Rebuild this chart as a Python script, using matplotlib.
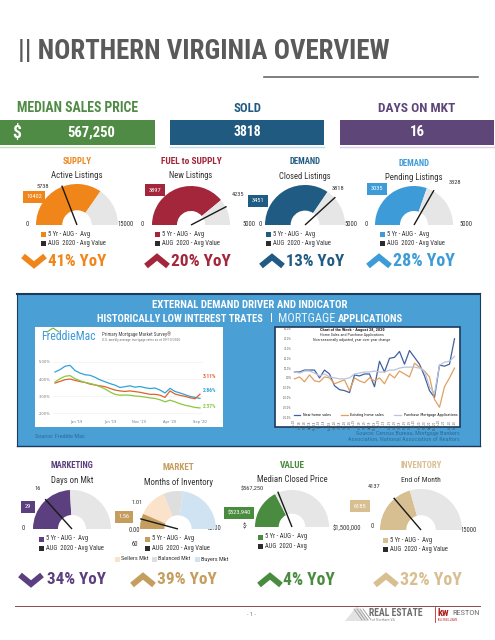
import numpy as np
import matplotlib.pyplot as plt
from matplotlib import font_manager

# ---- data ----
head_titles = ['MEDIAN SALES PRICE', 'SOLD', 'DAYS ON MKT']
head_values = ['567,250', '3818', '16']

gauge_titles = ['SUPPLY', 'FUEL to SUPPLY', 'DEMAND', 'DEMAND',
                'MARKETING', 'MARKET', 'VALUE', 'INVENTORY']
gauge_subtitles = ['Active Listings', 'New Listings', 'Closed Listings', 'Pending Listings',
                   'Days on Mkt', 'Months of Inventory', 'Median Closed Price', 'End of Month']
avg_5yr = [10402, 3897, 3451, 3035, 29, 1.56, 523940, 6185]
aug_2020 = [5738, 4235, 3818, 3328, 16, 1.01, 567250, 4137]
gauge_max = [15000, 5000, 5000, 5000, 60, 12, 1500000, 15000]
avg_labels = ['10402', '3897', '3451', '3035', '29', '1.56', '$523,940', '6185']
cur_labels = ['5738', '4235', '3818', '3328', '16', '1.01', '$567,250', '4137']
min_labels = ['0', '0', '0', '0', '0', '0.00', '$-', '0']
max_labels = ['15000', '5000', '5000', '5000', '60', '12.00', '$1,500,000', '15000']
legend_avg = '5 Yr - AUG -  Avg'
legend_cur = ['AUG  2020 - Avg Value'] * 6 + ['AUG  2020 - Avg', 'AUG  2020 - Avg Value']
yoy_pct = [41, 20, 13, 28, 34, 39, 4, 32]
yoy_up = [False, True, True, True, False, True, True, True]

market_bands = [4.5, 2.0, 5.5]
band_names = ['Sellers Mkt', 'Balanced Mkt', 'Buyers Mkt']

# Freddie Mac rates (%)
fm_ticks = ["Jan '19", "Jun '19", "Nov '19", "Apr '20", "Sep '20"]
fm_tick_pos = [4.3, 11, 16.7, 23, 29]
rate_30yr = [4.41, 4.55, 4.75, 4.80, 4.50, 4.35, 4.25, 4.22, 4.10, 3.95, 3.84, 3.73, 3.64, 3.50, 3.55,
             3.60, 3.52, 3.56, 3.49, 3.44, 3.47, 3.35, 3.18, 3.45, 3.27, 3.18, 3.08, 2.98, 2.92, 2.86]
rate_arm = [3.76, 3.86, 3.96, 4.00, 3.92, 3.85, 3.80, 3.70, 3.65, 3.60, 3.55, 3.45, 3.35, 3.30, 3.27,
            3.30, 3.26, 3.22, 3.16, 3.10, 3.10, 3.05, 2.92, 3.30, 3.12, 3.04, 2.98, 2.90, 2.84, 3.11]
rate_15yr = [3.82, 4.02, 4.16, 4.20, 4.02, 3.90, 3.80, 3.74, 3.66, 3.55, 3.42, 3.24, 3.10, 3.05, 3.06,
             3.05, 3.00, 2.98, 2.94, 2.89, 2.86, 2.78, 2.66, 2.76, 2.66, 2.55, 2.46, 2.40, 2.33, 2.30]

# Home sales / purchase apps, YoY %
months = ['Jan-18', 'Feb-18', 'Mar-18', 'Apr-18', 'May-18', 'Jun-18', 'Jul-18', 'Aug-18', 'Sep-18',
          'Oct-18', 'Nov-18', 'Dec-18', 'Jan-19', 'Feb-19', 'Mar-19', 'Apr-19', 'May-19', 'Jun-19',
          'Jul-19', 'Aug-19', 'Sep-19', 'Oct-19', 'Nov-19', 'Dec-19', 'Jan-20', 'Feb-20', 'Mar-20',
          'Apr-20', 'May-20', 'Jun-20', 'Jul-20', 'Aug-20', 'Sep-20']
new_home = [6, 6, 8, 8, 8, 0, 8, 4, -8, -12, -13, -15, 3, 2, 4, 4, -9, 17, 6, 20, 21, 27, 14, 28,
            21, 14, 2, -13, -20, 13, 12, 14, 40]
existing_home = [-1, 1, -4, 3, -3, -4, 1, 0, -6, -4, -2, -13, 0, -3, -5, 0, -3, 0, -6, 4, 0, 7, 4, 1,
                 15, 11, 7, 1, -22, -30, -9, 0, 10]
purchase_apps = [6, 5, 7, 7, 5, 2, 4, 1, 0, -1, -1, 0, 4, 5, 6, 6, 7, 6, 6, 8, 8, 10, 11, 11,
                 11, 10, 7, -9, -16, 13, 16, 17, 22]

# ---- colours ----
gauge_colors = ['#F0861A', '#A3263A', '#1F5B82', '#3D9BD8', '#5B3F7E', '#C59D5F', '#4A8C3F', '#D8BF91']
band_colors = ['#FBE3CB', '#DEDEDE', '#CFE3F2']
head_colors = ['#4F8B45', '#205A80', '#5E4679']
RING = '#E6E6E6'
DARK = '#2B2B2B'

have = {f.name for f in font_manager.fontManager.ttflist}
narrow = [f for f in ['Roboto Condensed', 'Liberation Sans Narrow', 'DejaVu Sans Condensed',
                      'Open Sans Condensed', 'Liberation Sans'] if f in have]
COND = narrow[:1] + ['DejaVu Sans']

W, H = 495, 640
fig = plt.figure(figsize=(W / 100, H / 100), dpi=100)
bg = fig.add_axes([0, 0, 1, 1])
bg.set_xlim(0, W)
bg.set_ylim(H, 0)
bg.axis('off')
renderer = fig.canvas.get_renderer()


def px_axes(x0, y0, w, h):
    return fig.add_axes([x0 / W, 1 - (y0 + h) / H, w / W, h / H])


def txt(x, y, s, size, color=DARK, weight='normal', ha='center', width=None, **kw):
    t = bg.text(x, y, s, fontsize=size, color=color, fontweight=weight, ha=ha, va='center',
                family=COND, **kw)
    if width:
        w = t.get_window_extent(renderer).width
        if w > width:
            t.set_fontsize(size * width / w)
    return t


def rect(x, y, w, h, color, **kw):
    bg.add_patch(plt.Rectangle((x, y), w, h, facecolor=color, edgecolor='none', **kw))


# ---- title ----
txt(18, 52, '|| NORTHERN VIRGINIA OVERVIEW', 21, '#5A5A5A', 'bold', ha='left', width=372)
bg.plot([264, 478], [77, 77], color='#6A6A6A', lw=1.2)

head_x = [(0, 155), (170, 324), (340, 494)]
head_w = [121, 28, 77]
val_w = [48, 28, 15]
light = ['#C5E0B8', '#BFDDEF', '#DCCDE8']
for i in range(3):
    x0, x1 = head_x[i]
    txt((x0 + x1) / 2, 108, head_titles[i], 13, head_colors[i], 'bold', width=head_w[i])
    rect(x0, 120, x1 - x0, 25, head_colors[i])
    vx = 91 if i == 0 else (x0 + x1) / 2
    txt(vx, 132.5, head_values[i], 14, 'white', 'bold', width=val_w[i])
    bg.plot([x0, x1], [147, 147], color=light[i], lw=1)
txt(17, 132.5, '$', 14, 'white', 'bold', width=9)

# ---- gauges ----
# cx, cy, R, title y, cur label xy, avg box xy, min xy, max xy, legend x, chevron x, yoy x
layout = [
    (77, 225, 41, 161, (43, 186), (34, 197), (27, 224), (126, 225), 43, 34, 48),
    (191, 225, 39, 161, (238, 195), (155, 190), (142, 224), (249, 225), 157, 157, 171),
    (305, 225, 40, 162, (338, 188), (258, 201), (260, 224), (351, 225), 268, 272, 286),
    (414, 225, 39, 163, (455, 183), (377, 189), (366, 224), (466, 225), 382, 379, 393),
    (72, 529, 39, 466, (38, 489), (28, 507), (23, 528), (135, 544), 41, 31, 47),
    (178, 529, 38, 468, (137, 503), (124, 517), (134, 530), (214, 528), 147, 143, 157),
    (292, 527, 37, 465, (252, 489), (239, 513), (245, 527), (347, 529), 260, 270, 283),
    (421, 530, 41, 466, (374, 487), (360, 506), (372, 527), (469, 530), 385, 386, 400),
]
title_w = [29, 61, 31, 31, 43, 32, 25, 41]
sub_w = [52, 44, 53, 58, 43, 70, 72, 40]
yoy_w = [58, 60, 58, 62, 59, 60, 52, 62]

for i, (cx, cy, R, ty, cxy, axy, mnxy, mxxy, lx, chx, yx) in enumerate(layout):
    col = gauge_colors[i]
    vmax = gauge_max[i]
    ax = px_axes(cx - R, cy - R, 2 * R, 2 * R)
    wp = dict(width=0.64, linewidth=0, edgecolor='none')
    if i == 5:
        ax.pie(market_bands + [vmax], colors=band_colors + ['none'], startangle=180,
               counterclock=False, wedgeprops=wp)
        ax.pie([avg_5yr[i], 2 * vmax - avg_5yr[i]], colors=[col, 'none'], startangle=180,
               counterclock=False, wedgeprops=wp)
    else:
        ax.pie([avg_5yr[i], vmax - avg_5yr[i], vmax], colors=[col, RING, 'none'],
               startangle=180, counterclock=False, wedgeprops=wp)
    th = np.pi * (1 - aug_2020[i] / vmax)
    ax.plot([0, 1.03 * np.cos(th)], [0, 1.03 * np.sin(th)], color='#1A1A1A', lw=1.0,
            clip_on=False, solid_capstyle='butt')
    ax.set_xlim(-1, 1)
    ax.set_ylim(-1, 1)
    ax.axis('off')

    txt(cx, ty, gauge_titles[i], 8, col, 'bold', width=title_w[i])
    txt(cx, ty + 14.5, gauge_subtitles[i], 7, '#333333', width=sub_w[i])
    txt(cxy[0], cxy[1], cur_labels[i], 4.6, '#333333')
    txt(axy[0], axy[1], avg_labels[i], 4.6, 'white',
        bbox=dict(boxstyle='square,pad=0.55', facecolor=col, edgecolor='none'))
    txt(mnxy[0], mnxy[1], min_labels[i], 4.7, '#333333')
    txt(mxxy[0], mxxy[1], max_labels[i], 4.7, '#333333')

    ly = cy + 9 if i < 4 else cy + 10
    rect(lx - 2.5, ly - 2.5, 5, 5, col)
    txt(lx + 5, ly, legend_avg, 4.8, '#333333', ha='left', width=45)
    rect(lx - 2.5, ly + 7, 5, 5, DARK)
    txt(lx + 5, ly + 9.5, legend_cur[i], 4.8, '#333333', ha='left',
        width=60 if i != 6 else 45)

    yy = 261 if i < 4 else 580
    if yoy_up[i]:
        pts = [(chx - 11, yy + 5), (chx, yy - 4), (chx + 11, yy + 5)]
    else:
        pts = [(chx - 11, yy - 5), (chx, yy + 4), (chx + 11, yy - 5)]
    bg.plot([p[0] for p in pts], [p[1] for p in pts], color=col, lw=4.2,
            solid_joinstyle='miter', solid_capstyle='butt')
    txt(yx, yy, f'{yoy_pct[i]}% YoY', 18, col, 'bold', ha='left', width=yoy_w[i])

# band legend under the market gauge
for bx, name, bc in zip([117, 154, 197], band_names, band_colors):
    rect(bx - 2.5, 556.5, 5, 5, bc)
    txt(bx + 4, 559, name, 4.5, '#333333', ha='left', width=32)

# ---- blue panel ----
rect(17, 293, 463, 153, '#4A9FD5')
bg.plot([17, 480], [293.5, 293.5], color='#1C3A5E', lw=1.5)
bg.plot([17, 480], [446, 446], color='#1C3A5E', lw=1)
bg.plot([17, 17], [293, 446], color='#1C3A5E', lw=0.8)
bg.plot([480, 480], [293, 446], color='#1C3A5E', lw=0.8)
txt(250, 305, 'EXTERNAL DEMAND DRIVER AND INDICATOR', 8, 'white', 'bold', width=196)
txt(97, 318.5, 'HISTORICALLY LOW INTEREST TRATES', 8, 'white', 'bold', ha='left', width=166)
txt(271, 318.5, '|', 8, 'white', 'bold')
txt(278, 318.5, 'MORTGAGE', 9.5, '#EAF4FB', ha='left', width=57)
txt(338, 318.5, 'APPLICATIONS', 8, 'white', 'bold', ha='left', width=65)

# left inset: Freddie Mac
rect(35, 327, 188, 100, 'white')
txt(41, 337, 'FreddieMac', 9, '#3A9AD9', ha='left', width=55)
bg.plot([47, 53, 59], [332, 328, 332], color='#6DB33F', lw=0.8)
txt(102, 334, 'Primary Mortgage Market Survey®', 3.6, '#444444', ha='left')
txt(102, 340, 'U.S. weekly average mortgage rates as of 09/10/2020', 2.6, '#777777', ha='left')
fm = px_axes(52.5, 355, 150, 63)
xi = np.arange(len(rate_30yr))
fm.plot(xi, rate_30yr, color='#2EA3D8', lw=0.9)
fm.plot(xi, rate_arm, color='#E0612B', lw=0.9)
fm.plot(xi, rate_15yr, color='#8CC63F', lw=0.9)
fm.set_xlim(-0.5, 29.5)
fm.set_ylim(1.71, 5.41)
fm.set_yticks([2, 3, 4, 5])
fm.set_yticklabels(['2.00%', '3.00%', '4.00%', '5.00%'])
fm.set_xticks(fm_tick_pos)
fm.set_xticklabels(fm_ticks)
fm.tick_params(labelsize=2.6, colors='#777777', length=0, pad=1.5)
fm.grid(axis='y', color='#EEEEEE', lw=0.4)
for s in fm.spines.values():
    s.set_visible(False)
fm.patch.set_alpha(0)
for yv, lab, c in [(376, '3.11%', '#E0612B'), (391, '2.86%', '#2EA3D8'), (406, '2.37%', '#8CC63F')]:
    txt(203, yv, lab, 4, c, 'bold', ha='left')
txt(35, 436, 'Source: Freddie Mac', 4.5, '#2E6D9C', ha='left', width=58)

# right inset: home sales & purchase applications
rect(275, 327, 185, 100, 'white')
bg.add_patch(plt.Rectangle((275, 327), 185, 100, facecolor='none', edgecolor='#1C3A5E', lw=1.2))
ma = px_axes(293, 327, 165, 92)
xm = np.arange(len(months))
ma.plot(xm, new_home, color='#41609F', lw=0.9, label='New home sales')
ma.plot(xm, existing_home, color='#E0A060', lw=0.9, label='Existing home sales')
ma.plot(xm, purchase_apps, color='#B8C4DC', lw=0.9, label='Purchase Mortgage Applications')
ma.set_xlim(-0.3, len(months) - 0.3)
ma.set_ylim(-42, 52)
ma.set_yticks(range(-40, 51, 10))
ma.set_yticklabels([f'{v}.0%' for v in range(-40, 51, 10)])
ma.set_xticks(xm)
ma.set_xticklabels(months, rotation=90)
ma.tick_params(labelsize=1.8, colors='#555555', length=0, pad=1)
for s in ma.spines.values():
    s.set_visible(False)
ma.patch.set_alpha(0)
ma.legend(loc='lower center', ncol=3, fontsize=2.4, frameon=False, handlelength=2,
          columnspacing=3, borderaxespad=0.2)
txt(352, 330, 'Chart of the Week - August 28, 2020', 3.2, '#222222', 'bold')
txt(352, 335, 'Home Sales and Purchase Applications', 3.0, '#333333')
txt(352, 340, 'Non-seasonally adjusted, year over year change', 3.0, '#333333')
txt(460, 433, 'Source: Census Bureau, Mortgage Bankers', 4.5, '#2E6D9C', ha='right', width=110)
txt(460, 440, 'Association, National Association of Realtors', 4.5, '#2E6D9C', ha='right', width=115)

# ---- footer ----
bg.plot([15, 480], [606, 606], color='#8A4A4A', lw=0.7)
txt(251, 614, '- 1 -', 4.5, '#777777')
bg.add_patch(plt.Polygon([(345, 621), (357, 606), (369, 621)], facecolor='#E2E2E2', edgecolor='none'))
for k in range(4):
    bg.plot([354 + 3 * k, 362 + 3 * k], [609, 620], color='#9A9A9A', lw=0.6)
txt(369, 613, 'REAL ESTATE', 7, '#6E6E6E', 'bold', ha='left', width=64)
txt(372, 620, 'of Northern VA', 2.8, '#888888', ha='left', width=58)
bg.plot([435, 435], [607, 622], color='#B03030', lw=0.6)
txt(437, 613, 'kw', 7.5, '#B01E1E', 'bold', ha='left', width=14)
txt(452, 613, 'RESTON', 6, '#6E6E6E', ha='left', width=28)
txt(438, 620, 'KELLERWILLIAMS', 2, '#B01E1E', ha='left', width=20)

fig.savefig('out.png', dpi=100)
